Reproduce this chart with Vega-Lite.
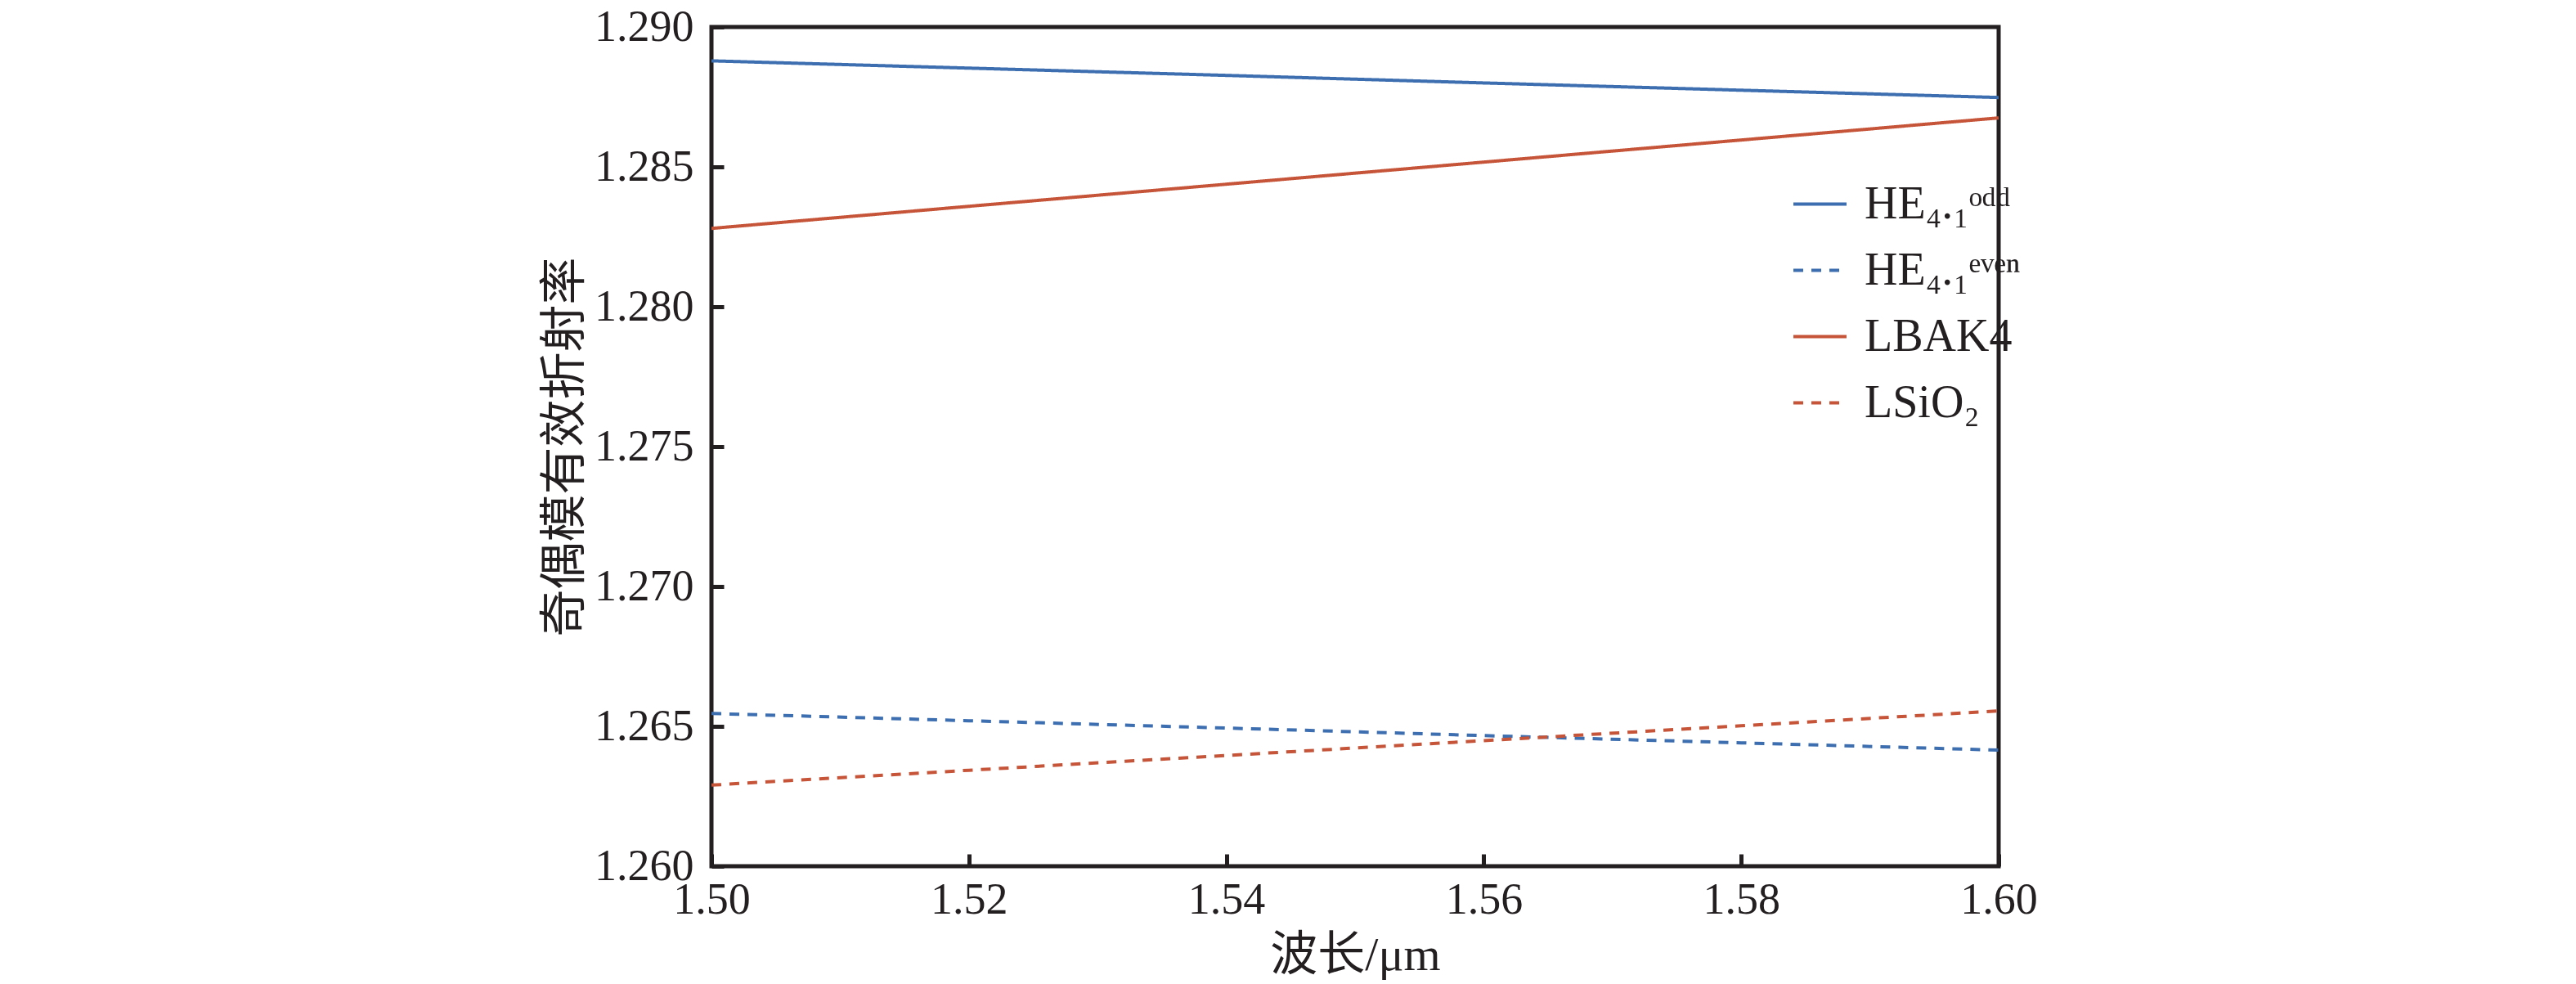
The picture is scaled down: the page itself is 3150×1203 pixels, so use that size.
{
  "$schema": "https://vega.github.io/schema/vega-lite/v6.json",
  "width": 1574,
  "height": 1026,
  "autosize": {"type": "none"},
  "padding": {"left": 870, "top": 33, "right": 706, "bottom": 144},
  "background": "white",
  "config": {
    "view": {"stroke": "#231f20", "strokeWidth": 5},
    "font": "Liberation Serif, Noto Sans CJK SC",
    "legend": {"labelLimit": 0}
  },
  "data": {
    "values": [
      {"series": "HEodd", "wl": 1.50, "n": 1.28879},
      {"series": "HEodd", "wl": 1.52, "n": 1.28853},
      {"series": "HEodd", "wl": 1.54, "n": 1.28827},
      {"series": "HEodd", "wl": 1.56, "n": 1.28800},
      {"series": "HEodd", "wl": 1.58, "n": 1.28774},
      {"series": "HEodd", "wl": 1.60, "n": 1.28748},
      {"series": "HEeven", "wl": 1.50, "n": 1.26546},
      {"series": "HEeven", "wl": 1.52, "n": 1.26520},
      {"series": "HEeven", "wl": 1.54, "n": 1.26494},
      {"series": "HEeven", "wl": 1.56, "n": 1.26467},
      {"series": "HEeven", "wl": 1.58, "n": 1.26441},
      {"series": "HEeven", "wl": 1.60, "n": 1.26415},
      {"series": "LBAK4", "wl": 1.50, "n": 1.28280},
      {"series": "LBAK4", "wl": 1.52, "n": 1.28359},
      {"series": "LBAK4", "wl": 1.54, "n": 1.28438},
      {"series": "LBAK4", "wl": 1.56, "n": 1.28517},
      {"series": "LBAK4", "wl": 1.58, "n": 1.28596},
      {"series": "LBAK4", "wl": 1.60, "n": 1.28675},
      {"series": "LSiO2", "wl": 1.50, "n": 1.26290},
      {"series": "LSiO2", "wl": 1.52, "n": 1.26343},
      {"series": "LSiO2", "wl": 1.54, "n": 1.26396},
      {"series": "LSiO2", "wl": 1.56, "n": 1.26449},
      {"series": "LSiO2", "wl": 1.58, "n": 1.26502},
      {"series": "LSiO2", "wl": 1.60, "n": 1.26555}
    ]
  },
  "mark": {"type": "line", "strokeWidth": 4, "clip": true},
  "encoding": {
    "x": {
      "field": "wl",
      "type": "quantitative",
      "scale": {"domain": [1.5, 1.6], "nice": false, "zero": false},
      "axis": {
        "title": "波长/μm",
        "values": [1.5, 1.52, 1.54, 1.56, 1.58, 1.6],
        "format": ".2f",
        "domain": false,
        "grid": false,
        "ticks": true,
        "offset": -15,
        "tickColor": "#231f20",
        "tickWidth": 5,
        "tickSize": 15,
        "labelFlush": false,
        "labelFont": "Liberation Serif",
        "labelFontSize": 54,
        "labelColor": "#231f20",
        "labelPadding": 14,
        "titleFont": "Liberation Serif, Noto Sans CJK SC",
        "titleFontSize": 58,
        "titleFontWeight": "normal",
        "titleColor": "#231f20",
        "titlePadding": 12
      }
    },
    "y": {
      "field": "n",
      "type": "quantitative",
      "scale": {"domain": [1.26, 1.29], "nice": false, "zero": false},
      "axis": {
        "title": "奇偶模有效折射率",
        "values": [1.26, 1.265, 1.27, 1.275, 1.28, 1.285, 1.29],
        "format": ".3f",
        "domain": false,
        "grid": false,
        "ticks": true,
        "offset": -15,
        "tickColor": "#231f20",
        "tickWidth": 5,
        "tickSize": 15,
        "labelFont": "Liberation Serif",
        "labelFontSize": 54,
        "labelColor": "#231f20",
        "labelPadding": 22,
        "titleFont": "Liberation Serif, Noto Sans CJK SC",
        "titleFontSize": 58,
        "titleFontWeight": "normal",
        "titleColor": "#231f20",
        "titlePadding": 6
      }
    },
    "color": {
      "field": "series",
      "type": "nominal",
      "scale": {
        "domain": ["HEodd", "HEeven", "LBAK4", "LSiO2"],
        "range": ["#3d6fb0", "#3d6fb0", "#c65438", "#c65438"]
      },
      "legend": {
        "title": null,
        "orient": "none",
        "legendX": 1321,
        "legendY": 182,
        "symbolType": "stroke",
        "symbolSize": 4225,
        "symbolStrokeWidth": 4,
        "labelFont": "Liberation Serif, DejaVu Serif",
        "labelFontSize": 56,
        "labelColor": "#231f20",
        "labelOffset": 20,
        "labelLimit": 0,
        "rowPadding": 18,
        "labelExpr": "datum.value == 'HEodd' ? 'HE₄.₁ᵒᵈᵈ' : datum.value == 'HEeven' ? 'HE₄.₁ᵉᵛᵉⁿ' : datum.value == 'LBAK4' ? 'LBAK4' : 'LSiO₂'"
      }
    },
    "strokeDash": {
      "field": "series",
      "type": "nominal",
      "scale": {
        "domain": ["HEodd", "HEeven", "LBAK4", "LSiO2"],
        "range": [[1, 0], [12, 10], [1, 0], [12, 10]]
      },
      "legend": {
        "title": null,
        "orient": "none",
        "legendX": 1321,
        "legendY": 182,
        "symbolType": "stroke",
        "symbolSize": 4225,
        "symbolStrokeWidth": 4,
        "labelFont": "Liberation Serif, DejaVu Serif",
        "labelFontSize": 56,
        "labelColor": "#231f20",
        "labelOffset": 20,
        "labelLimit": 0,
        "rowPadding": 18,
        "labelExpr": "datum.value == 'HEodd' ? 'HE₄.₁ᵒᵈᵈ' : datum.value == 'HEeven' ? 'HE₄.₁ᵉᵛᵉⁿ' : datum.value == 'LBAK4' ? 'LBAK4' : 'LSiO₂'"
      }
    }
  }
}
